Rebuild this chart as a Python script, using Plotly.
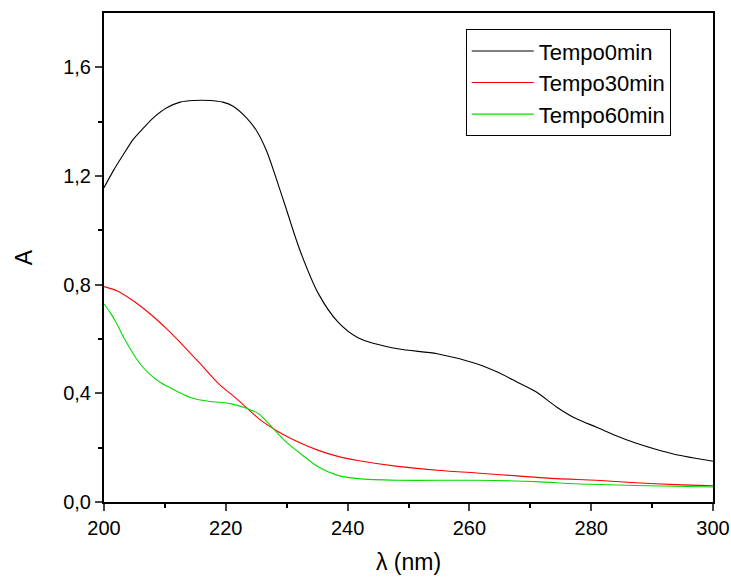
import plotly.graph_objects as go

# valori
lam_0 = [200, 201.5, 203.2, 204.8, 206.5, 208.1, 210.3, 212.5, 214.7, 217.4, 219.5, 221.2, 223.4,
         225.1, 226.7, 229.5, 232.2, 235.2, 238.4, 241.7, 248.2, 254.7, 261.2, 264.5, 267.8,
         271.0, 274.3, 277.5, 280.8, 284.0, 287.3, 290.6, 293.8, 300]
abs_0 = [1.157, 1.218, 1.280, 1.335, 1.377, 1.414, 1.451, 1.472, 1.478, 1.478, 1.472, 1.457, 1.414,
         1.365, 1.292, 1.108, 0.925, 0.767, 0.663, 0.605, 0.564, 0.546, 0.509, 0.479, 0.442,
         0.405, 0.35, 0.307, 0.276, 0.245, 0.217, 0.194, 0.175, 0.150]

lam_30 = [200, 202.1, 204.8, 207.6, 210.3, 213.0, 215.8, 218.8, 222.1, 225.4, 228.7, 231.9,
          235.2, 238.4, 241.7, 248.2, 254.7, 261.2, 267.8, 274.3, 280.8, 287.3, 293.8, 300]
abs_30 = [0.793, 0.778, 0.741, 0.692, 0.637, 0.576, 0.509, 0.436, 0.374, 0.307, 0.258, 0.221,
          0.190, 0.168, 0.153, 0.131, 0.117, 0.107, 0.096, 0.086, 0.080, 0.071, 0.064, 0.060]

lam_60 = [200, 201.0, 202.1, 203.2, 204.3, 205.9, 207.6, 209.2, 210.8, 213.0, 215.2, 217.4,
          219.0, 220.8, 223.5, 225.4, 227.3, 229.9, 232.6, 235.2, 238.4, 241.7, 248.2, 261.2,
          271.0, 277.5, 287.3, 300]
abs_60 = [0.729, 0.698, 0.656, 0.607, 0.564, 0.509, 0.469, 0.441, 0.421, 0.396, 0.378, 0.370,
          0.367, 0.362, 0.344, 0.325, 0.282, 0.221, 0.172, 0.129, 0.098, 0.086, 0.080, 0.080,
          0.075, 0.067, 0.061, 0.055]

fig = go.Figure()
fig.add_trace(go.Scatter(x=lam_0, y=abs_0, mode='lines', name='Tempo0min',
                         line=dict(color='black', width=1.1, shape='spline', smoothing=0.8)))
fig.add_trace(go.Scatter(x=lam_30, y=abs_30, mode='lines', name='Tempo30min',
                         line=dict(color='red', width=1.1, shape='spline', smoothing=0.8)))
fig.add_trace(go.Scatter(x=lam_60, y=abs_60, mode='lines', name='Tempo60min',
                         line=dict(color='#00dd00', width=1.1, shape='spline', smoothing=0.8)))

font = "Liberation Sans, Arial, sans-serif"

fig.update_xaxes(range=[200, 300], dtick=20, tick0=200, ticks='outside', ticklen=7, tickwidth=2,
                 showline=True, linewidth=2, linecolor='black', mirror=True,
                 showgrid=False, zeroline=False, automargin=False,
                 minor=dict(dtick=10, ticks='outside', ticklen=4, tickwidth=1.5, tickcolor='black'),
                 title=dict(text='λ (nm)', font=dict(size=23, family=font), standoff=16),
                 tickfont=dict(size=20, family=font, color='black'))
fig.update_yaxes(range=[0, 1.8], tickvals=[0, 0.4, 0.8, 1.2, 1.6], tickformat='.1f',
                 ticks='outside', ticklen=7, tickwidth=2,
                 showline=True, linewidth=2, linecolor='black', mirror=True,
                 showgrid=False, zeroline=False, automargin=False,
                 minor=dict(tickvals=[0.2, 0.6, 1.0, 1.4], ticks='outside', ticklen=4,
                            tickwidth=1.5, tickcolor='black'),
                 title=dict(text='A', font=dict(size=23, family=font), standoff=24),
                 tickfont=dict(size=20, family=font, color='black'))

fig.update_layout(
    width=731, height=577,
    margin=dict(l=104, r=18, t=13, b=75),
    plot_bgcolor='white', paper_bgcolor='white',
    separators=', ',
    font=dict(family=font, color='black'),
    legend=dict(x=0.594, y=0.967, xanchor='left', yanchor='top',
                bordercolor='black', borderwidth=1, bgcolor='white',
                font=dict(size=22, family=font), itemwidth=62,
                tracegroupgap=0),
    showlegend=True,
)

# niente margine della pagina
fig.write_html("out.html", config={'displayModeBar': False},
               post_script="document.body.style.margin='0';")
